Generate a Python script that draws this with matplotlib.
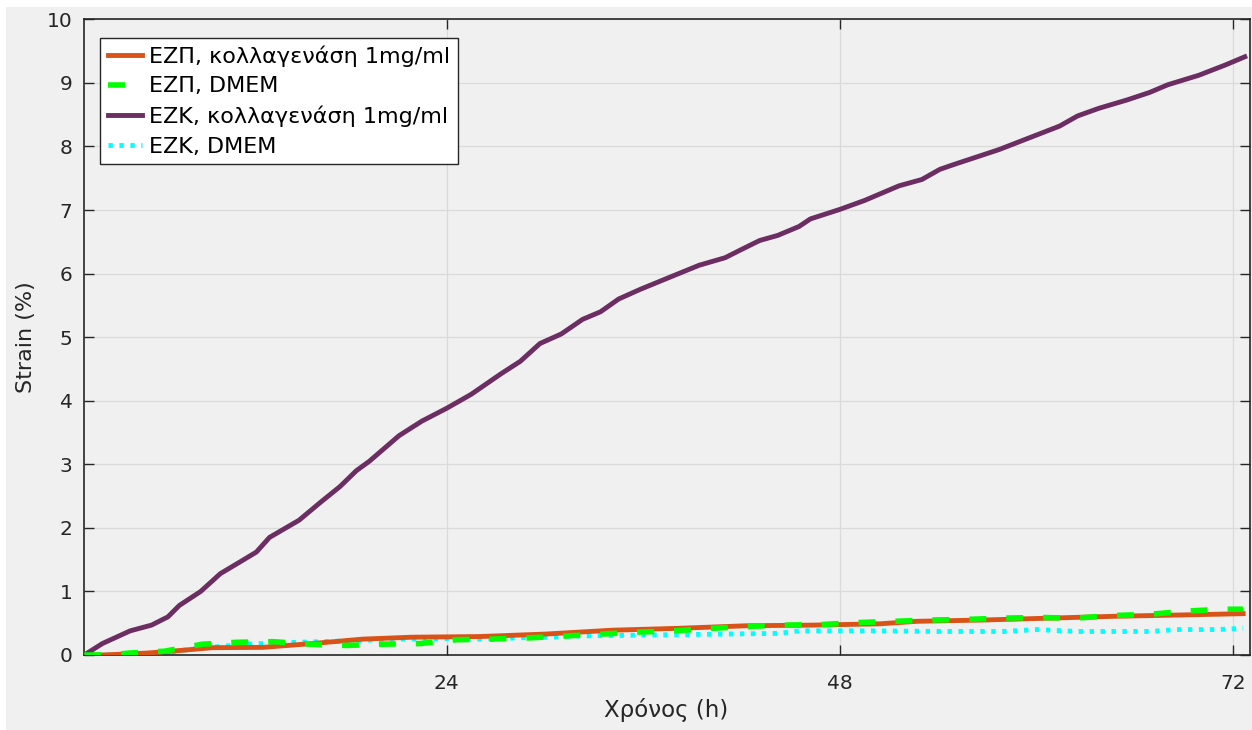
import matplotlib
matplotlib.use("Agg")
import matplotlib.pyplot as plt
from matplotlib.patches import Rectangle

# ΕΖΚ, κολλαγενάση 1mg/ml
t_ezk_col = [1.9, 3.0, 4.7, 6.0, 7.0, 7.7, 9.0, 10.2, 11.5, 12.4, 13.2, 14.2, 15.0,
             16.3, 17.5, 18.5, 19.3, 20.2, 21.1, 22.5, 24.0, 25.5, 27.3, 28.5, 29.7,
             31.0, 32.3, 33.4, 34.5, 35.8, 37.5, 39.4, 41.0, 42.0, 43.1, 44.2, 45.5,
             46.2, 48.0, 49.5, 51.6, 53.0, 54.1, 55.0, 57.7, 59.5, 61.4, 62.5, 63.8,
             65.5, 66.9, 68.0, 69.9, 71.5, 72.7]
y_ezk_col = [0.0, 0.18, 0.38, 0.47, 0.6, 0.78, 1.0, 1.28, 1.48, 1.62, 1.85, 2.0, 2.12,
             2.4, 2.65, 2.9, 3.05, 3.25, 3.45, 3.68, 3.88, 4.1, 4.42, 4.62, 4.9,
             5.05, 5.28, 5.4, 5.6, 5.75, 5.93, 6.13, 6.25, 6.38, 6.52, 6.6, 6.74,
             6.86, 7.01, 7.15, 7.38, 7.48, 7.64, 7.72, 7.95, 8.13, 8.32, 8.48, 8.6,
             8.73, 8.85, 8.97, 9.12, 9.28, 9.41]

# ΕΖΠ, κολλαγενάση 1mg/ml
t_ezp_col = [1.9, 3.0, 5.7, 7.7, 9.7, 12.8, 15.8, 18.9, 21.9, 26.0, 30.1, 34.1, 38.2,
             42.3, 46.3, 50.4, 52.7, 56.7, 60.8, 64.9, 68.9, 72.6]
y_ezp_col = [0.0, 0.0, 0.03, 0.07, 0.115, 0.12, 0.18, 0.25, 0.28, 0.29, 0.33, 0.39, 0.42,
             0.46, 0.47, 0.49, 0.53, 0.55, 0.58, 0.61, 0.63, 0.65]

# ΕΖΠ, DMEM
t_ezp_dm = [1.9, 3.5, 4.6, 6.8, 9.1, 11.2, 13.4, 15.7, 17.9, 20.1, 22.4, 24.6, 26.8,
            29.1, 31.3, 33.5, 35.7, 37.9, 40.2, 42.5, 44.6, 46.9, 49.1, 51.3, 53.6,
            55.8, 57.9, 60.2, 62.4, 64.6, 66.9, 69.1, 71.3, 72.6]
y_ezp_dm = [0.0, 0.0, 0.03, 0.06, 0.17, 0.2, 0.21, 0.17, 0.15, 0.17, 0.18, 0.24, 0.25,
            0.27, 0.3, 0.33, 0.36, 0.38, 0.42, 0.45, 0.47, 0.48, 0.51, 0.53, 0.55,
            0.56, 0.58, 0.59, 0.58, 0.62, 0.64, 0.69, 0.72, 0.72]

# ΕΖΚ, DMEM
t_ezk_dm = [1.9, 4.0, 6.7, 8.7, 11.8, 14.9, 17.9, 20.9, 24.0, 26.0, 32.1, 38.2, 44.3,
            45.5, 50.0, 54.0, 58.0, 60.0, 62.5, 67.0, 68.5, 71.0, 72.6]
y_ezk_dm = [0.0, 0.0, 0.03, 0.1, 0.17, 0.2, 0.22, 0.25, 0.26, 0.25, 0.3, 0.32, 0.34,
            0.38, 0.38, 0.37, 0.37, 0.4, 0.37, 0.37, 0.4, 0.4, 0.42]

labels = ["ΕΖΠ, κολλαγενάση 1mg/ml", "ΕΖΠ, DMEM", "ΕΖΚ, κολλαγενάση 1mg/ml", "ΕΖΚ, DMEM"]
x_ticks = [24, 48, 72]
y_ticks = list(range(0, 11))

bg = "#f0f0f0"
dark = "#262626"
fig = plt.figure(figsize=(12.52, 7.30), dpi=100, facecolor="white")
fig.patches.append(Rectangle((6 / 1252, 0), 1, 1 - 7 / 730, transform=fig.transFigure,
                             facecolor=bg, edgecolor="none", zorder=-10))
ax = fig.add_axes([83.5 / 1252, 1 - 655 / 730, (1249.7 - 83.5) / 1252, (655 - 19.3) / 730])
ax.set_facecolor(bg)

ax.plot(t_ezp_col, y_ezp_col, color="#d95319", lw=3.5, label=labels[0], zorder=3)
ax.plot(t_ezp_dm, y_ezp_dm, color="#00ff00", lw=4, ls=(0, (3.05, 3.6)), label=labels[1], zorder=4)
ax.plot(t_ezk_col, y_ezk_col, color="#6b2d62", lw=3.5, label=labels[2], zorder=3)
ax.plot(t_ezk_dm, y_ezk_dm, color="#00ffff", lw=3.5, ls=(0, (0.9, 1.35)), label=labels[3], zorder=2)

ax.set_xlim(1.85, 73)
ax.set_ylim(0, 10)
ax.set_xticks(x_ticks)
ax.set_yticks(y_ticks)
ax.grid(True, color="#dadada", lw=0.9)
ax.set_axisbelow(True)
ax.tick_params(direction="in", length=7, width=1, color=dark, labelcolor=dark,
               labelsize=14.5, top=True, right=True)
ax.tick_params(axis="x", pad=14)
ax.tick_params(axis="y", pad=8)
for s in ax.spines.values():
    s.set_color(dark)
    s.set_linewidth(1.2)

ax.set_xlabel("Χρόνος (h)", fontsize=16.5, color=dark, labelpad=3)
ax.set_ylabel("Strain (%)", fontsize=16, color=dark, labelpad=8)

leg = ax.legend(loc="upper left", bbox_to_anchor=(0.014, 0.971), borderaxespad=0,
                fontsize=16, frameon=True, fancybox=False, handlelength=1.55,
                handletextpad=0.3, borderpad=0.35, labelspacing=0.42)
leg.get_frame().set_edgecolor(dark)
leg.get_frame().set_facecolor("white")
leg.get_frame().set_alpha(1)
leg.get_frame().set_linewidth(1)

fig.savefig("out.png", dpi=100, facecolor=fig.get_facecolor())
